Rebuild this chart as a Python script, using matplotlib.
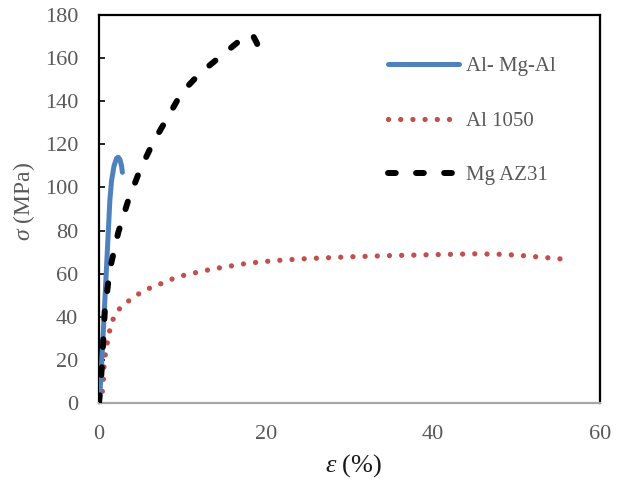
import matplotlib
matplotlib.use('Agg')
import matplotlib.pyplot as plt

# Al- Mg-Al (strain %, stress MPa)
almgal_strain = [0, 0.2, 0.5, 0.9, 1.3, 1.5, 1.8, 2.1, 2.3, 2.5, 2.7, 2.8]
almgal_stress = [0, 10, 32, 63, 94, 103, 110, 113.5, 114, 113, 110, 107]

# Al 1050
al1050_strain = [0, 0.3, 0.5, 0.6, 0.8, 1.0, 1.3, 1.7, 2.5, 3.6, 4.7, 5.9, 7.2, 8.4, 9.7,
                 11.0, 12.5, 13.7, 15.0, 16.4, 17.8, 19.2, 20.6, 22.0, 25.0, 30.0, 35.0,
                 40.0, 45.0, 48.0, 50.0, 52.8, 55.4]
al1050_stress = [0, 3, 8, 17, 24, 28, 34, 39, 44, 47.5, 50.5, 53, 55, 57, 58.8,
                 60, 61.2, 62.3, 63, 64, 64.8, 65.4, 65.9, 66.3, 67, 67.8, 68.4,
                 68.8, 69.2, 69, 68.6, 67.7, 66.8]

# Mg AZ31
az31_strain = [0, 0.2, 0.4, 0.7, 1.3, 2.3, 3.5, 4.9, 6.5, 8.3, 9.9, 12.1, 14.3, 16.5,
               17.8, 18.5, 18.9, 19.1]
az31_stress = [0, 8, 21, 43, 62, 79, 94, 108, 121, 133, 144, 153, 160, 167,
               171, 170, 167, 165]

labels = ['Al- Mg-Al', 'Al 1050', 'Mg AZ31']
x_ticks = [0, 20, 40, 60]
y_ticks = list(range(0, 181, 20))

plt.rcParams['font.family'] = ['Liberation Serif', 'DejaVu Serif']
plt.rcParams['mathtext.fontset'] = 'custom'
plt.rcParams['mathtext.it'] = 'Liberation Serif:italic'
plt.rcParams['mathtext.rm'] = 'Liberation Serif'

GRAY = '#595959'

fig = plt.figure(figsize=(6.21, 4.88), dpi=100)
ax = fig.add_axes([99 / 621, 85 / 488, 501 / 621, 388 / 488])

ax.plot(almgal_strain, almgal_stress, color='#4F81BD', lw=3.6,
        solid_capstyle='round', solid_joinstyle='round', label=labels[0], zorder=3)
ax.plot(al1050_strain, al1050_stress, color='#C0504D', lw=3.8,
        linestyle=(0, (0.01, 2.3)), dash_capstyle='round', label=labels[1], zorder=2)
ax.plot(az31_strain, az31_stress, color='black', lw=4.3,
        linestyle=(0, (1.3, 3.4)), dash_capstyle='round', label=labels[2], zorder=4)

ax.set_xlim(0, 60)
ax.set_ylim(0, 180)
ax.set_xticks(x_ticks)
ax.set_yticks(y_ticks)

for side in ['left', 'top', 'right']:
    ax.spines[side].set_color('black')
    ax.spines[side].set_linewidth(1.6)
ax.spines['bottom'].set_color('#A6A6A6')
ax.spines['bottom'].set_linewidth(1.6)

ax.tick_params(axis='y', direction='in', length=4, width=1.2, color='black',
               labelsize=16, labelcolor=GRAY, pad=15)
ax.tick_params(axis='x', length=0, labelsize=16, labelcolor=GRAY, pad=16)

ax.set_xlabel(r'$\varepsilon$ (%)', fontsize=19, color='#1a1a1a', va='center')
ax.xaxis.set_label_coords(0.509, -0.16)
ax.set_ylabel(r'$\sigma$ (MPa)', fontsize=17, color=GRAY, va='center')
ax.yaxis.set_label_coords(-0.15, 0.52)

leg = ax.legend(loc='upper left', bbox_to_anchor=(0.577, 0.892), frameon=False,
                fontsize=15, handlelength=3.4, handletextpad=0.35,
                labelspacing=1.67, borderpad=0, borderaxespad=0)
for t in leg.get_texts():
    t.set_color(GRAY)

fig.savefig('out.png', dpi=100)
